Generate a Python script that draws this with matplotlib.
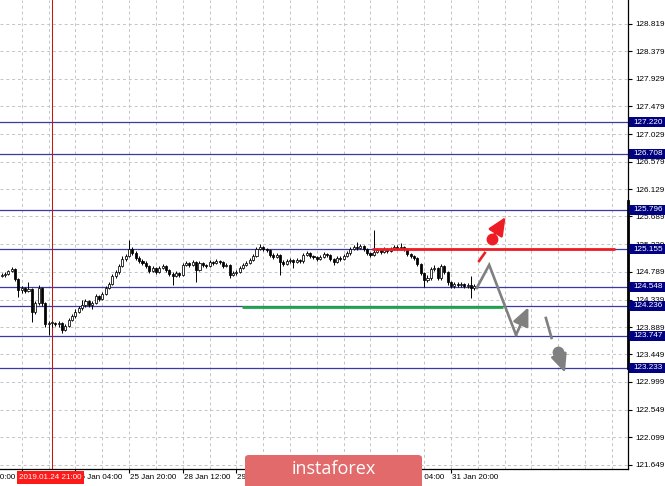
import numpy as np
import matplotlib
matplotlib.use("Agg")
import matplotlib.pyplot as plt
import matplotlib.transforms as mtransforms
from matplotlib.patches import Rectangle, FancyBboxPatch

plt.rcParams['font.family'] = ['Liberation Sans', 'DejaVu Sans']

# ---------------- data ----------------
bar_index = np.arange(-15, 127)          # 0 = 2019.01.24 21:00 (H1 bars)
first_open = 124.72
close = [
    124.74, 124.75, 124.80, 124.83, 124.67, 124.49, 124.53, 124.48, 124.51, 124.14,
    124.28, 124.53, 124.28, 123.94, 123.96,
    123.96, 123.94, 123.96, 123.84, 123.91, 124.01, 124.07, 124.14, 124.20, 124.25,
    124.31, 124.25, 124.28, 124.40, 124.35, 124.43, 124.53, 124.59, 124.72, 124.79,
    124.88, 125.00, 125.05, 125.16, 125.09, 125.01, 124.97, 124.93, 124.88, 124.80,
    124.85, 124.79, 124.85, 124.88, 124.82, 124.75, 124.72, 124.77, 124.74, 124.90,
    124.93, 124.90, 124.95, 124.82, 124.93, 124.90, 124.88, 124.95, 124.93, 124.96,
    124.95, 124.88, 124.90, 124.74, 124.77, 124.79, 124.85, 124.90, 124.93, 124.98,
    125.05, 125.16, 125.19, 125.16, 125.14, 125.06, 125.03, 125.06, 124.95, 124.92,
    124.96, 124.98, 124.95, 124.98, 124.96, 125.06, 125.09, 125.05, 125.03, 125.00,
    125.03, 125.08, 125.06, 125.00, 124.95, 125.01, 125.00, 125.05, 125.09, 125.16,
    125.19, 125.18, 125.21, 125.16, 125.09, 125.06, 125.11, 125.14, 125.11, 125.16,
    125.13, 125.16, 125.19, 125.18, 125.19, 125.16, 125.08, 125.05, 125.01, 124.92,
    124.77, 124.66, 124.69, 124.84, 124.85, 124.69, 124.88, 124.79, 124.62, 124.56,
    124.59, 124.57, 124.59, 124.56, 124.57, 124.53, 124.56]
high = [
    124.77, 124.78, 124.82, 124.87, 124.85, 124.69, 124.56, 124.55, 124.63, 124.53,
    124.31, 124.58, 124.55, 124.30, 123.99,
    123.99, 123.98, 123.99, 123.98, 123.94, 124.04, 124.11, 124.18, 124.24, 124.33,
    124.34, 124.33, 124.32, 124.43, 124.42, 124.46, 124.56, 124.62, 124.75, 124.82,
    124.91, 125.04, 125.08, 125.31, 125.19, 125.12, 125.04, 125.00, 124.96, 124.90,
    124.88, 124.87, 124.88, 124.92, 124.90, 124.84, 124.78, 124.80, 124.79, 124.93,
    124.96, 124.95, 124.98, 124.97, 124.96, 124.95, 124.92, 124.98, 124.97, 124.99,
    124.98, 124.97, 124.93, 124.92, 124.80, 124.82, 124.88, 124.93, 124.96, 125.01,
    125.08, 125.20, 125.24, 125.21, 125.18, 125.16, 125.09, 125.09, 125.08, 124.98,
    124.99, 125.01, 125.00, 125.01, 125.00, 125.09, 125.12, 125.11, 125.07, 125.05,
    125.06, 125.11, 125.10, 125.08, 125.02, 125.04, 125.04, 125.08, 125.12, 125.19,
    125.23, 125.27, 125.24, 125.23, 125.18, 125.11, 125.47, 125.17, 125.16, 125.19,
    125.18, 125.19, 125.22, 125.22, 125.25, 125.21, 125.18, 125.10, 125.07, 125.03,
    124.94, 124.79, 124.74, 124.87, 124.90, 124.87, 124.91, 124.90, 124.81, 124.64,
    124.63, 124.62, 124.62, 124.61, 124.60, 124.72, 124.59]
low = [
    124.70, 124.71, 124.73, 124.78, 124.64, 124.38, 124.45, 124.44, 124.46, 123.97,
    124.10, 124.25, 124.24, 123.89, 123.76,
    123.90, 123.91, 123.90, 123.80, 123.82, 123.89, 123.99, 124.04, 124.12, 124.17,
    124.22, 124.21, 124.18, 124.26, 124.32, 124.33, 124.41, 124.51, 124.57, 124.69,
    124.76, 124.86, 124.97, 125.03, 125.06, 124.98, 124.94, 124.90, 124.85, 124.77,
    124.78, 124.76, 124.77, 124.83, 124.79, 124.72, 124.58, 124.70, 124.71, 124.72,
    124.88, 124.87, 124.88, 124.63, 124.80, 124.87, 124.85, 124.86, 124.90, 124.91,
    124.92, 124.85, 124.86, 124.69, 124.72, 124.74, 124.77, 124.83, 124.88, 124.91,
    124.96, 125.03, 125.14, 125.13, 125.11, 125.03, 125.00, 125.01, 124.74, 124.89,
    124.90, 124.93, 124.85, 124.93, 124.93, 124.94, 125.04, 125.02, 125.00, 124.97,
    124.98, 125.01, 125.03, 124.97, 124.90, 124.93, 124.97, 124.98, 125.03, 125.07,
    125.14, 125.15, 125.16, 125.13, 125.06, 125.03, 125.04, 125.09, 125.08, 125.09,
    125.10, 125.11, 125.14, 125.15, 125.15, 125.13, 125.05, 125.02, 124.98, 124.89,
    124.74, 124.54, 124.62, 124.66, 124.80, 124.66, 124.66, 124.76, 124.58, 124.52,
    124.53, 124.54, 124.55, 124.53, 124.53, 124.36, 124.50]
opens = [first_open] + close[:-1]

levels = [127.220, 126.708, 125.796, 125.155, 124.548, 124.236, 123.747, 123.233]
level_labels = ['127.220', '126.708', '125.796', '125.155', '124.548', '124.236', '123.747', '123.233']
grid_prices = [128.819, 128.379, 127.929, 127.479, 127.029, 126.579, 126.129, 125.689,
               125.239, 124.789, 124.339, 123.889, 123.449, 122.999, 122.549, 122.099, 121.649]
grid_price_labels = ['128.819', '128.379', '127.929', '127.479', '127.029', '126.579', '126.129',
                     '125.689', '125.239', '124.789', '124.339', '123.889', '123.449', '122.999',
                     '122.549', '122.099', '121.649']
# visible (fully or partly) time labels
time_tick_idx = [-25, 7, 23, 39, 55, 103, 119]
time_tick_labels = ['23 Jan 20:00', '25 Jan 04:00', '25 Jan 20:00', '28 Jan 12:00',
                    '29 Jan 04:00', '31 Jan 04:00', '31 Jan 20:00']
# label tick positions (every 16 bars)
time_mark_idx = [-9, 7, 23, 39, 55, 71, 87, 103, 119]
grid_idx = [-9, -1, 7, 15, 23, 31, 39, 47, 55, 63, 71, 79, 87, 95, 103, 111, 119, 127, 135,
            143, 151, 159, 167]
crosshair_idx = 0
crosshair_label = '2019.01.24 21:00'

# forecast drawings (bar index, price)
gray_path_x = [126.7, 130.4, 138.4]
gray_path_y = [124.527, 124.901, 123.763]
gray_tip = (142.1, 124.213)
gray2_seg_x = [147.3, 149.0]
gray2_seg_y = [124.039, 123.714]
gray2_dot = (150.8, 123.491)
gray2_tip = (153.0, 123.150)
red_seg_x = [127.4, 129.1]
red_seg_y = [124.966, 125.096]
red_dot = (131.1, 125.318)
red_tip = (135.3, 125.681)
green_x = [56.7, 134.5]
green_y = 124.225
red_line_x = [95.4, 167.9]
red_line_y = 125.155

# ---------------- figure ----------------
W, H = 665, 486
fig = plt.figure(figsize=(W / 100, H / 100), dpi=100)
fig.patch.set_facecolor('white')
ax = fig.add_axes([0, 1 - 469 / H, 628 / W, 469 / H])
ax.set_xlim(-15.5, 171.8)
ax.set_ylim(121.583, 129.209)
for s in ['top', 'left']:
    ax.spines[s].set_visible(False)
for s in ['right', 'bottom']:
    ax.spines[s].set_color('black')
    ax.spines[s].set_linewidth(0.9)

# grid
grid_style = dict(color='#c4c4c4', lw=0.7, ls=(0, (3, 3)), zorder=0)
for gp in grid_prices:
    ax.axhline(gp, **grid_style)
for gx in grid_idx:
    ax.axvline(gx, **grid_style)

# y ticks on right
ax.yaxis.tick_right()
ax.set_yticks(grid_prices)
ax.set_yticklabels(grid_price_labels)
ax.tick_params(axis='y', direction='out', length=3, width=0.8, pad=2, labelsize=5.9, colors='black')
ax.set_xticks(time_mark_idx)
ax.set_xticklabels([])
ax.tick_params(axis='x', direction='out', length=3, width=0.8)

# x labels
tb = mtransforms.blended_transform_factory(ax.transData, fig.transFigure)
for t, lab in zip(time_tick_idx, time_tick_labels):
    ax.text(t + 0.3, 1 - 477 / H, lab, transform=tb, ha='left', va='center',
            fontsize=5.8, color='black', clip_on=False)

# horizontal levels
for lv in levels:
    ax.axhline(lv, color='#3a3aa6', lw=0.9, zorder=1)

# crosshair
ax.axvline(crosshair_idx, color='#c81414', lw=0.75, zorder=2)

# candles
o = np.array(opens); c = np.array(close); h = np.array(high); l = np.array(low)
ax.vlines(bar_index, l, h, color='black', lw=0.7, zorder=3)
bull = c >= o
body_h = np.maximum(np.abs(c - o), 0.006)
body_b = np.minimum(o, c)
ax.bar(bar_index[bull], body_h[bull], bottom=body_b[bull], width=0.62,
       facecolor='white', edgecolor='black', linewidth=0.55, zorder=4)
ax.bar(bar_index[~bull], body_h[~bull], bottom=body_b[~bull], width=0.62,
       facecolor='black', edgecolor='black', linewidth=0.55, zorder=4)

# green & red lines
ax.plot(green_x, [green_y, green_y], color='#1fa64a', lw=2.0, zorder=5, solid_capstyle='butt')
ax.plot(red_line_x, [red_line_y, red_line_y], color='#ee1c24', lw=2.0, zorder=5, solid_capstyle='butt')

# forecast arrows
gray = '#808080'
red = '#ee1c24'
arrow_style = '-|>,head_length=1.0,head_width=0.45'
ms = 11
ax.plot(gray_path_x, gray_path_y, color=gray, lw=1.9, zorder=6, solid_joinstyle='miter')
ax.annotate('', xy=gray_tip, xytext=(gray_path_x[-1], gray_path_y[-1]),
            arrowprops=dict(arrowstyle=arrow_style, color=gray, lw=1.9, mutation_scale=ms,
                            shrinkA=0, shrinkB=0), zorder=6)
ax.plot(gray2_seg_x, gray2_seg_y, color=gray, lw=1.9, zorder=6)
ax.annotate('', xy=gray2_tip, xytext=gray2_dot,
            arrowprops=dict(arrowstyle=arrow_style, color=gray, lw=1.9, mutation_scale=ms,
                            shrinkA=0, shrinkB=0), zorder=6)
ax.plot([gray2_dot[0]], [gray2_dot[1]], 'o', color=gray, ms=7.5, zorder=7)
ax.plot(red_seg_x, red_seg_y, color=red, lw=1.9, zorder=6)
ax.annotate('', xy=red_tip, xytext=red_dot,
            arrowprops=dict(arrowstyle=arrow_style, color=red, lw=1.9, mutation_scale=ms,
                            shrinkA=0, shrinkB=0), zorder=6)
ax.plot([red_dot[0]], [red_dot[1]], 'o', color=red, ms=7.5, zorder=7)

# thick marker on price axis
rb = mtransforms.blended_transform_factory(ax.transAxes, ax.transData)
ax.plot([1, 1], [123.226, 125.94], transform=rb, color='black', lw=2.0, clip_on=False, zorder=8)

# level label boxes
fb = mtransforms.blended_transform_factory(fig.transFigure, ax.transData)
box_h = 10 / 61.5
for lv, lab in zip(levels, level_labels):
    r = Rectangle((629 / W, lv - box_h / 2), 36 / W, box_h, transform=fb,
                  facecolor='#000080', edgecolor='none', zorder=10)
    fig.add_artist(r)
    fig.text(633 / W, lv, lab, transform=fb, ha='left', va='center', color='white',
             fontsize=5.9, zorder=11)

# crosshair time label
fig.add_artist(Rectangle((17 / W, 1 - 484 / H), 67 / W, 13 / H, transform=fig.transFigure,
                         facecolor='#ff1a1a', edgecolor='none', zorder=10))
fig.text(50.5 / W, 1 - 477.5 / H, crosshair_label, ha='center', va='center', color='white',
         fontsize=5.8, zorder=11)

# watermark
fig.add_artist(FancyBboxPatch((245 / W, -0.02), 177 / W, 31 / H + 0.02,
                              boxstyle='round,pad=0,rounding_size=0.006',
                              transform=fig.transFigure, facecolor='#e36a6a',
                              edgecolor='none', zorder=12))
fig.text(333.5 / W, 1 - 469 / H, 'instaforex', ha='center', va='center', color='white',
         fontsize=13, family='Open Sans', zorder=13)

fig.savefig('out.png', dpi=100, facecolor='white')
